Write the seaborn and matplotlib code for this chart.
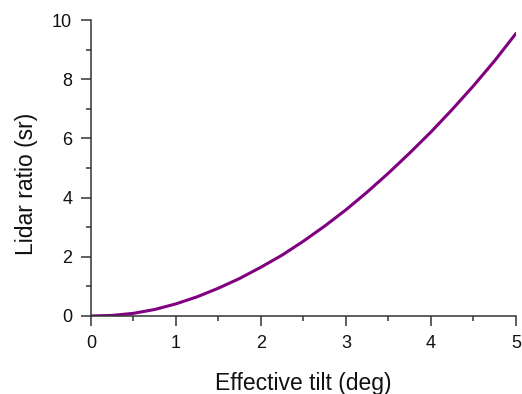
import matplotlib
matplotlib.use("Agg")
import matplotlib.pyplot as plt
import seaborn as sns
import pandas as pd
from matplotlib.ticker import MultipleLocator

# values
tilt_deg = [0, 0.25, 0.5, 0.75, 1, 1.25, 1.5, 1.75, 2, 2.25, 2.5,
            2.75, 3, 3.25, 3.5, 3.75, 4, 4.25, 4.5, 4.75, 5]
lidar_ratio = [0, 0.02, 0.09, 0.22, 0.41, 0.65, 0.94, 1.27, 1.65, 2.06, 2.53,
               3.04, 3.59, 4.19, 4.83, 5.51, 6.22, 6.98, 7.78, 8.63, 9.55]

df = pd.DataFrame({'tilt': tilt_deg, 'ratio': lidar_ratio})

sns.set_style("ticks")
plt.rcParams['font.family'] = ['Liberation Sans', 'DejaVu Sans']

fig = plt.figure(figsize=(5.22, 3.94), dpi=100)
ax = fig.add_axes([0.1743, 0.198, 0.8142, 0.751])

sns.lineplot(x='tilt', y='ratio', data=df, color='#800080', linewidth=2.2, ax=ax)

ax.set_xlim(0, 5)
ax.set_ylim(0, 10)
ax.xaxis.set_major_locator(MultipleLocator(1))
ax.xaxis.set_minor_locator(MultipleLocator(0.5))
ax.yaxis.set_major_locator(MultipleLocator(2))
ax.yaxis.set_minor_locator(MultipleLocator(1))

ax.set_xlabel('Effective tilt (deg)', fontsize=16.5, color='#111111')
ax.set_ylabel('Lidar ratio (sr)', fontsize=16.5, color='#111111')
ax.xaxis.set_label_coords(0.5, -0.19)
ax.yaxis.set_label_coords(-0.125, 0.446)

ax.tick_params(which='major', length=7, width=1.1, colors='#333333', labelsize=13,
               labelcolor='#111111', direction='out', pad=6.5)
ax.tick_params(which='minor', length=3.5, width=1.1, colors='#333333', direction='out')

sns.despine(ax=ax)
for s in ['left', 'bottom']:
    ax.spines[s].set_color('#333333')
    ax.spines[s].set_linewidth(1.1)

fig.savefig('out.png', dpi=100)
